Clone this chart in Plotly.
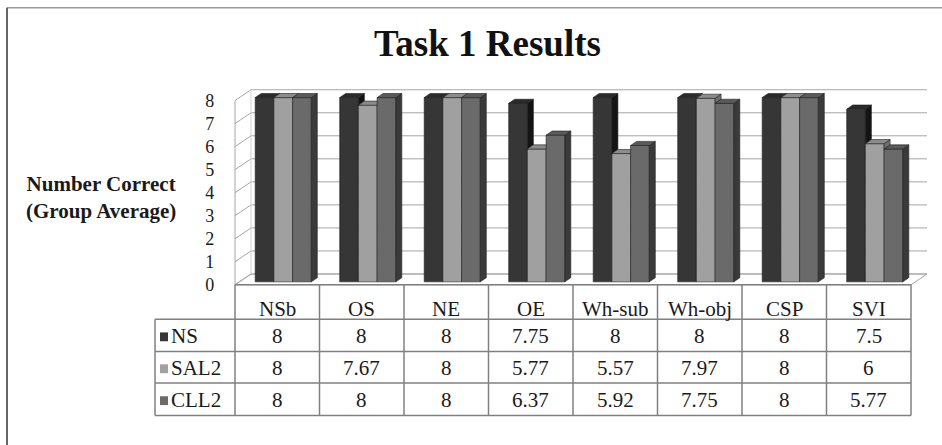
import plotly.graph_objects as go

# ---- data -------------------------------------------------------------
categories = ["NSb", "OS", "NE", "OE", "Wh-sub", "Wh-obj", "CSP", "SVI"]
series_names = ["NS", "SAL2", "CLL2"]
ns_vals = [8, 8, 8, 7.75, 8, 8, 8, 7.5]
sal2_vals = [8, 7.67, 8, 5.77, 5.57, 7.97, 8, 6]
cll2_vals = [8, 8, 8, 6.37, 5.92, 7.75, 8, 5.77]
y_ticks = [0, 1, 2, 3, 4, 5, 6, 7, 8]

series_vals = [ns_vals, sal2_vals, cll2_vals]

# ---- styling ----------------------------------------------------------
FONT = "Liberation Serif, Times New Roman, serif"
front_col = ["#363636", "#a0a0a0", "#6a6a6a"]
top_col = ["#2a2a2a", "#8c8c8c", "#5a5a5a"]
side_col = ["#141414", "#707070", "#3a3a3a"]
edge_col = "#1e1e1e"
wall_col = "#a6a6a6"
table_col = "#808080"
text_col = "#1a1a1a"

# ---- geometry (pixels) -----------------------------------------------
W, H = 942, 445
X_EDGE = 235.0      # left edge of the first category column
CW = 84.5           # width of one category column
Y_FLOOR = 290.0     # front edge of the floor (value 0)
UH = 23.45          # pixels per unit of value
X_RIGHT = X_EDGE + len(categories) * CW

x_range = [-0.52, len(categories) - 0.25]
y_range = [-0.1, 8.7]


def dxu(p):
    return p / CW


def dyu(p):
    return p / UH


def paper_x(p):
    return p / W


def paper_y(p):
    return 1 - p / H


dom_x = [paper_x(X_EDGE + (x_range[0] + 0.5) * CW), paper_x(X_EDGE + (x_range[1] + 0.5) * CW)]
dom_y = [paper_y(Y_FLOOR - y_range[0] * UH), paper_y(Y_FLOOR - y_range[1] * UH)]

# depth offsets of the back wall, the bar fronts and the bar depth
WDX, WDY = dxu(16), dyu(11)
FDX, BASE = dxu(6), dyu(3)
BDX, BDY = dxu(6), dyu(4.2)
BW = 18.7 / CW
n_series = len(series_vals)

fig = go.Figure()

# front faces of the bars
offsets = []
for k, (name, vals) in enumerate(zip(series_names, series_vals)):
    off = FDX - n_series * BW / 2 + k * BW
    offsets.append(off)
    fig.add_trace(go.Bar(
        x=list(range(len(categories))), y=vals, base=BASE, width=BW, offset=off,
        name=name, marker=dict(color=front_col[k], line=dict(color=edge_col, width=0.6)),
        showlegend=False, hoverinfo="skip",
    ))

# side and top faces, hidden parts removed where a neighbour bar covers them
side_x = [[] for _ in range(n_series)]
side_y = [[] for _ in range(n_series)]
top_x = [[] for _ in range(n_series)]
top_y = [[] for _ in range(n_series)]
for i in range(len(categories)):
    for k in range(n_series):
        x0 = i + offsets[k]
        x1 = x0 + BW
        y0 = BASE
        y1 = BASE + series_vals[k][i]
        nxt = BASE + series_vals[k + 1][i] if k + 1 < n_series else None
        # side face
        lo = y0 if nxt is None else nxt
        if y1 > lo:
            side_x[k] += [x1, x1 + BDX, x1 + BDX, x1, x1, None]
            side_y[k] += [lo, lo + BDY, y1 + BDY, y1, lo, None]
        # top face
        if nxt is not None and nxt > y1:
            rise = min(nxt - y1, BDY)
            xr = x1 + BDX * (1 - rise / BDY)
            top_x[k] += [x0, x0 + BDX, xr, x1, x1, x0, None]
            top_y[k] += [y1, y1 + BDY, y1 + BDY, y1 + rise, y1, y1, None]
        else:
            top_x[k] += [x0, x0 + BDX, x1 + BDX, x1, x0, None]
            top_y[k] += [y1, y1 + BDY, y1 + BDY, y1, y1, None]

for k in range(n_series):
    fig.add_trace(go.Scatter(x=side_x[k], y=side_y[k], mode="lines", fill="toself",
                             fillcolor=side_col[k], line=dict(color=edge_col, width=0.6),
                             showlegend=False, hoverinfo="skip"))
    fig.add_trace(go.Scatter(x=top_x[k], y=top_y[k], mode="lines", fill="toself",
                             fillcolor=top_col[k], line=dict(color=edge_col, width=0.6),
                             showlegend=False, hoverinfo="skip"))

shapes = []
xl = -0.5
xr_ = len(categories) - 0.5
# floor
shapes.append(dict(type="path", xref="x", yref="y", layer="below",
                   path=f"M {xl},0 L {xr_},0 L {xr_ + WDX},{WDY} L {xl + WDX},{WDY} Z",
                   line=dict(color=wall_col, width=1)))
# back-wall gridlines and left-wall slants
for v in y_ticks:
    shapes.append(dict(type="line", xref="x", yref="y", layer="below",
                       x0=xl + WDX, y0=v + WDY, x1=xr_ + WDX, y1=v + WDY,
                       line=dict(color=wall_col, width=1)))
    shapes.append(dict(type="line", xref="x", yref="y", layer="below",
                       x0=xl, y0=v, x1=xl + WDX, y1=v + WDY,
                       line=dict(color=wall_col, width=1)))
shapes.append(dict(type="line", xref="x", yref="y", layer="below",
                   x0=xl, y0=0, x1=xl, y1=y_ticks[-1], line=dict(color=wall_col, width=1)))
shapes.append(dict(type="line", xref="x", yref="y", layer="below",
                   x0=xl + WDX, y0=WDY, x1=xl + WDX, y1=y_ticks[-1] + WDY,
                   line=dict(color="#d0d0d0", width=1)))

# data table
LEG_LEFT = 155.0
row_lines = [325.0, 358.0, 390.0, 423.0]
row_centers = [342.5, 375.0, 407.5]
HEAD_CENTER = 315.0
tline = dict(color=table_col, width=1.5)
shapes.append(dict(type="line", xref="paper", yref="paper",
                   x0=paper_x(X_EDGE), x1=paper_x(X_RIGHT),
                   y0=paper_y(Y_FLOOR), y1=paper_y(Y_FLOOR), line=tline))
for yy in row_lines:
    shapes.append(dict(type="line", xref="paper", yref="paper",
                       x0=paper_x(LEG_LEFT), x1=paper_x(X_RIGHT),
                       y0=paper_y(yy), y1=paper_y(yy), line=tline))
for j in range(len(categories) + 1):
    shapes.append(dict(type="line", xref="x", yref="paper",
                       x0=j - 0.5, x1=j - 0.5,
                       y0=paper_y(Y_FLOOR), y1=paper_y(row_lines[-1]), line=tline))
shapes.append(dict(type="line", xref="paper", yref="paper",
                   x0=paper_x(LEG_LEFT), x1=paper_x(LEG_LEFT),
                   y0=paper_y(row_lines[0]), y1=paper_y(row_lines[-1]), line=tline))

# legend keys inside the table
for k in range(n_series):
    yc = row_centers[k]
    shapes.append(dict(type="rect", xref="paper", yref="paper",
                       x0=paper_x(160), x1=paper_x(168),
                       y0=paper_y(yc - 4), y1=paper_y(yc + 5),
                       fillcolor=front_col[k], line=dict(width=0)))

# outer frame
shapes.append(dict(type="line", xref="paper", yref="paper",
                   x0=paper_x(7), x1=paper_x(7), y0=paper_y(8), y1=-0.1,
                   line=dict(color="#333333", width=1.5)))
shapes.append(dict(type="line", xref="paper", yref="paper",
                   x0=paper_x(7), x1=1.1, y0=paper_y(8), y1=paper_y(8),
                   line=dict(color="#666666", width=1)))

annotations = []
cell_font = dict(family=FONT, size=21, color=text_col)
for i, cat in enumerate(categories):
    annotations.append(dict(x=i, y=paper_y(HEAD_CENTER), xref="x", yref="paper",
                            text=cat, showarrow=False, font=cell_font,
                            xanchor="center", yanchor="middle"))
    for k in range(n_series):
        annotations.append(dict(x=i, y=paper_y(row_centers[k]), xref="x", yref="paper",
                                text=f"{series_vals[k][i]:g}", showarrow=False, font=cell_font,
                                xanchor="center", yanchor="middle"))
for k, name in enumerate(series_names):
    annotations.append(dict(x=paper_x(169), y=paper_y(row_centers[k]), xref="paper", yref="paper",
                            text=name, showarrow=False, font=cell_font,
                            xanchor="left", yanchor="middle"))

annotations.append(dict(x=paper_x(487), y=paper_y(44), xref="paper", yref="paper",
                        text="<b>Task 1 Results</b>", showarrow=False,
                        font=dict(family=FONT, size=37, color="#111111"),
                        xanchor="center", yanchor="middle"))
annotations.append(dict(x=paper_x(101), y=paper_y(201), xref="paper", yref="paper",
                        text="<b>Number Correct<br>(Group Average)</b>", showarrow=False,
                        font=dict(family=FONT, size=21, color=text_col),
                        xanchor="center", yanchor="middle"))

fig.update_layout(
    width=W, height=H, autosize=False,
    margin=dict(l=0, r=0, t=0, b=0),
    paper_bgcolor="white", plot_bgcolor="rgba(0,0,0,0)",
    barmode="overlay",
    xaxis=dict(domain=dom_x, range=x_range, visible=False, fixedrange=True),
    yaxis=dict(domain=dom_y, range=y_range, tickvals=y_ticks,
               ticktext=[str(t) for t in y_ticks], showgrid=False, zeroline=False,
               showline=False, ticks="", ticklabelstandoff=18,
               tickfont=dict(family=FONT, size=18, color=text_col), fixedrange=True),
    shapes=shapes, annotations=annotations,
)

fig.write_html("out.html")
